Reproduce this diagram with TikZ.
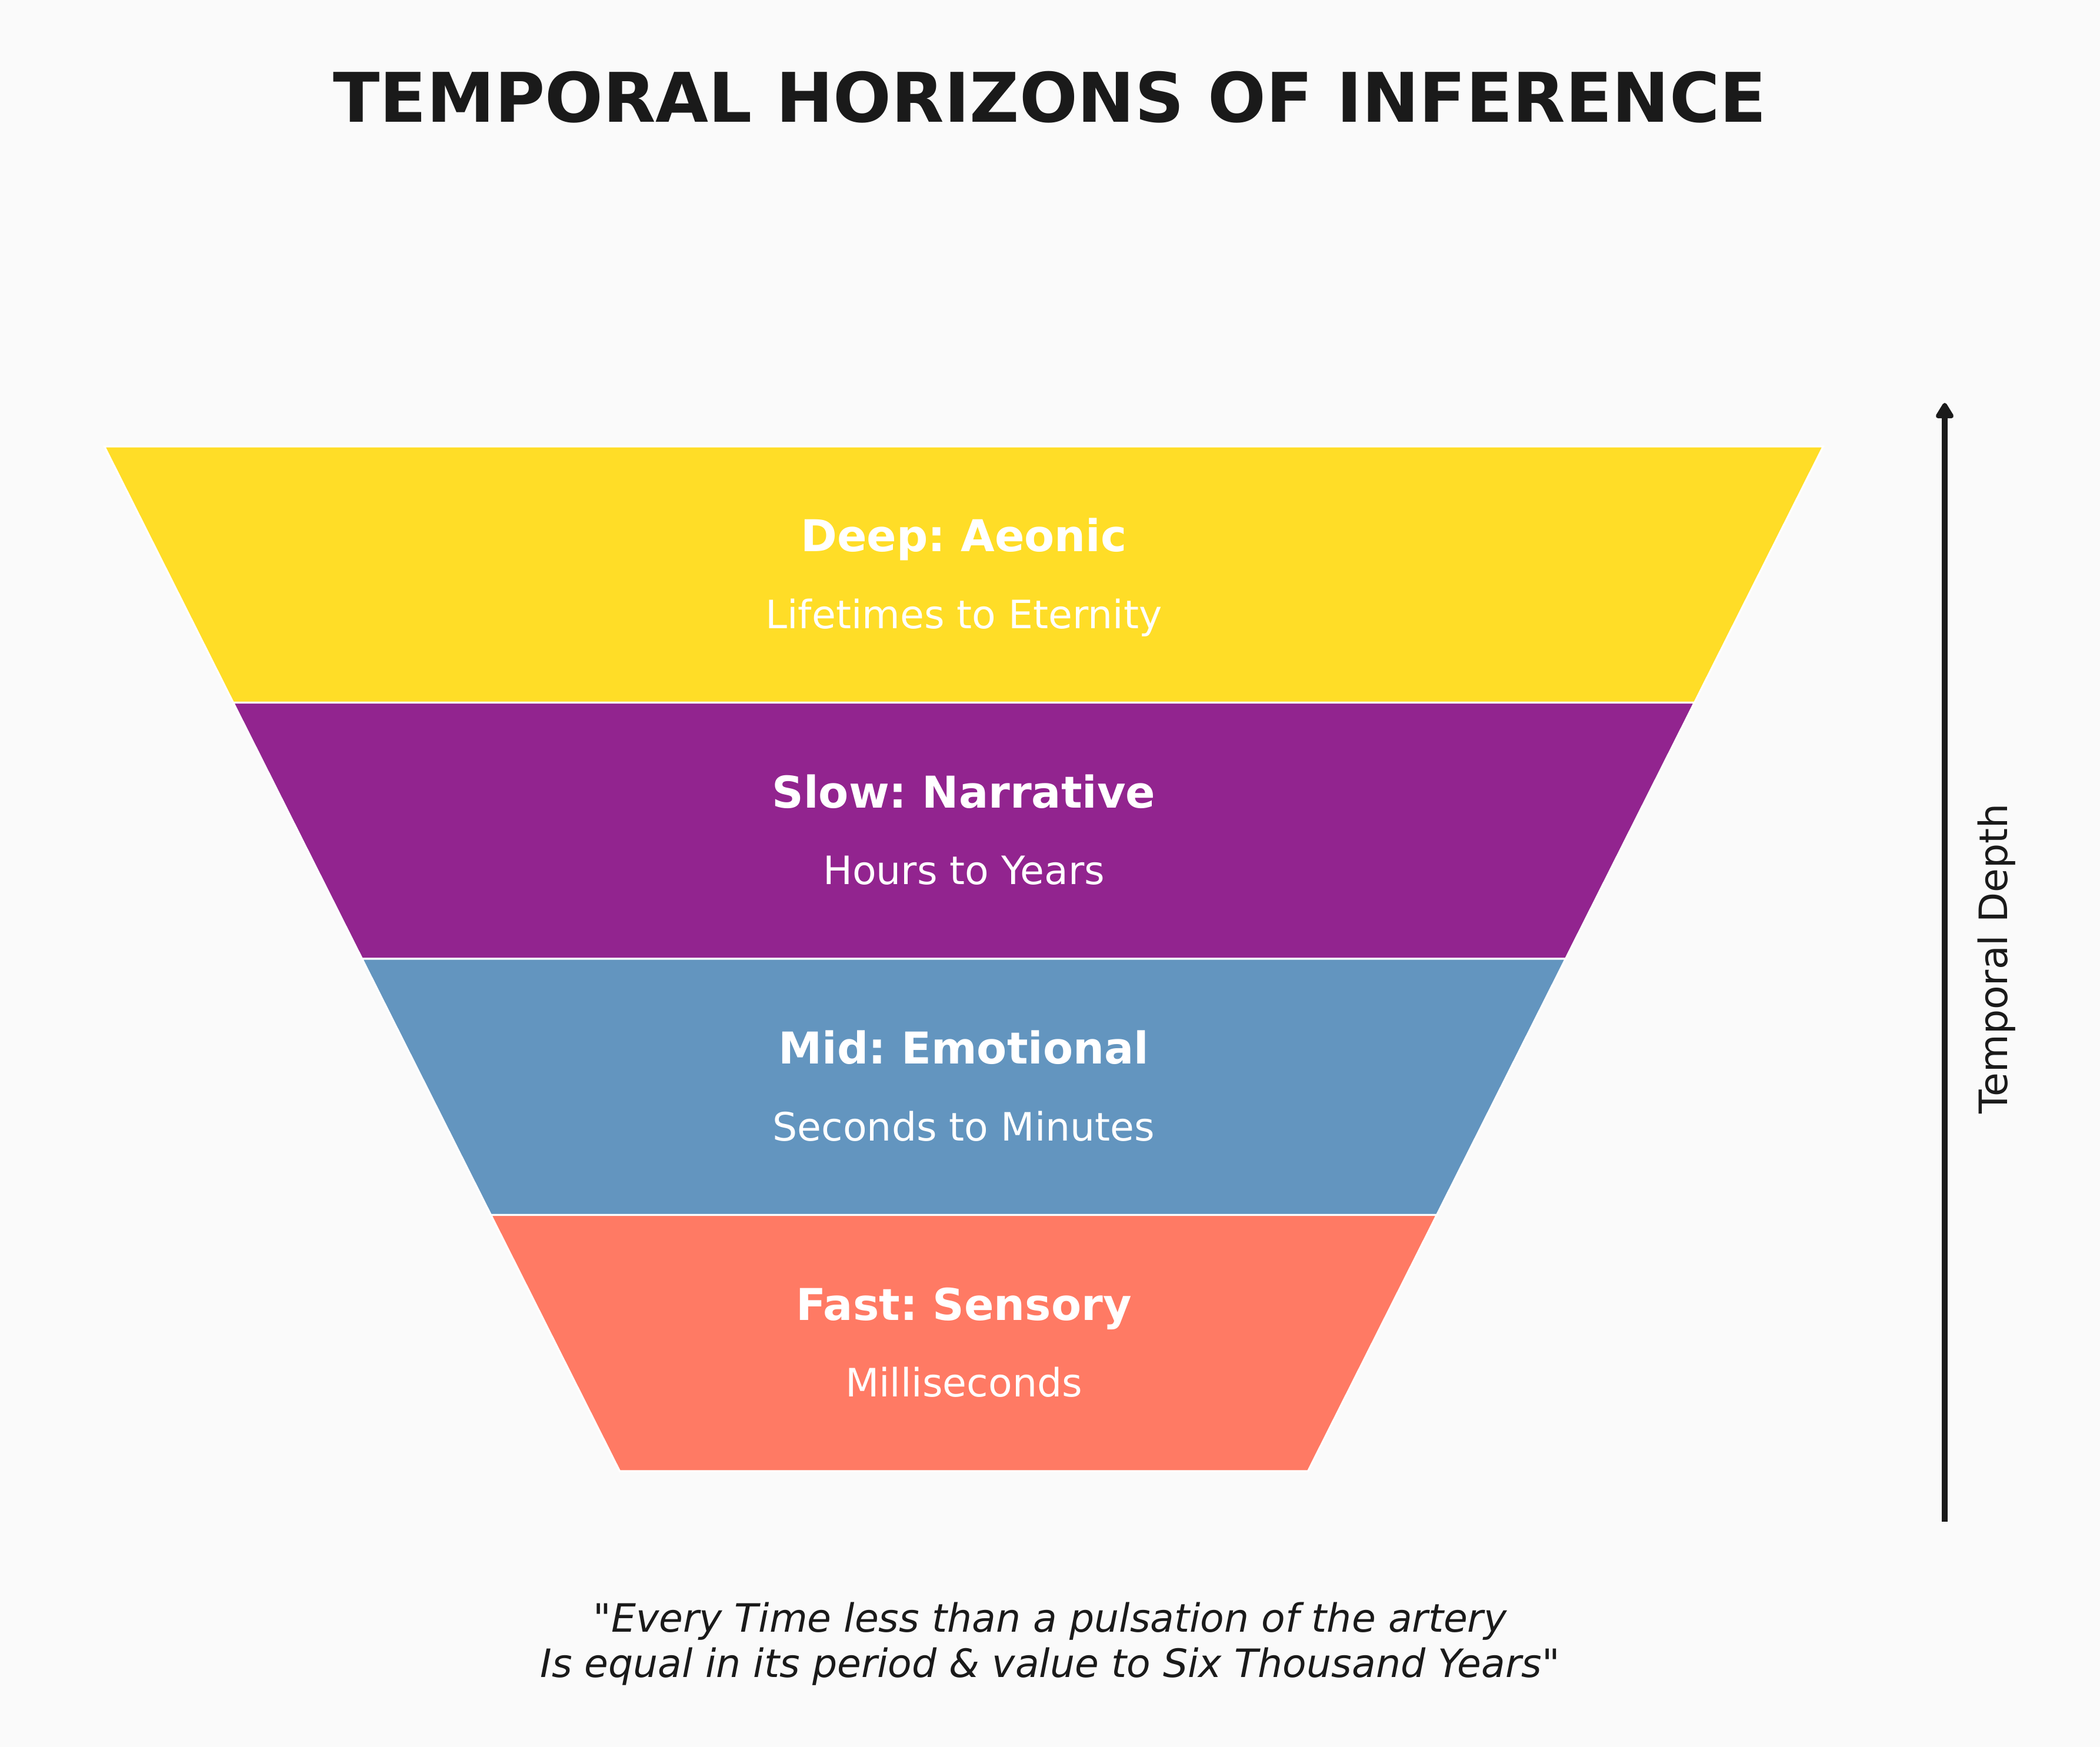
\documentclass[tikz,border=0pt]{standalone}
\usepackage{fontspec}
\setmainfont{DejaVu Sans}
\usetikzlibrary{arrows.meta}
\frenchspacing

\definecolor{paper}{HTML}{FAFAFA}
\definecolor{ink}{HTML}{1A1A1A}
\definecolor{deepcol}{HTML}{FFDD27}
\definecolor{slowcol}{HTML}{92248F}
\definecolor{midcol}{HTML}{6395BF}
\definecolor{fastcol}{HTML}{FF7A64}

\begin{document}
\begin{tikzpicture}[auto,
    band/.style ={draw=white, line width=0.9pt},
    level/.style ={anchor=base, inner sep=0pt, text=white, font=\fontsize{21.2}{25}\selectfont\bfseries},
    span/.style ={anchor=base, inner sep=0pt, text=white, font=\fontsize{18.9}{23}\selectfont},
    note/.style ={inner sep=0pt, text=ink, font=\fontsize{18.9}{22}\selectfont}]
   \fill[paper] (0,0) rectangle (35.7,29.7);
   \useasboundingbox (0,0) rectangle (35.7,29.7);
   \node[anchor=base, inner sep=0pt, text=ink, font=\fontsize{33.1}{40}\selectfont\bfseries] (title) at (17.85,27.62) {TEMPORAL HORIZONS OF INFERENCE};
   % funnel, widest band on top
   \filldraw[band, fill=deepcol] (1.775,22.11) -- (30.995,22.11) -- (28.805,17.755) -- (3.965,17.755) -- cycle;
   \filldraw[band, fill=slowcol] (3.965,17.755) -- (28.805,17.755) -- (26.615,13.40) -- (6.155,13.40) -- cycle;
   \filldraw[band, fill=midcol] (6.155,13.40) -- (26.615,13.40) -- (24.425,9.045) -- (8.345,9.045) -- cycle;
   \filldraw[band, fill=fastcol] (8.345,9.045) -- (24.425,9.045) -- (22.235,4.69) -- (10.535,4.69) -- cycle;
   \node[level] (deep) at (16.385,20.3225) {Deep: Aeonic};
   \node[span] (deeptime) at (16.385,19.0175) {Lifetimes to Eternity};
   \node[level] (slow) at (16.385,15.9675) {Slow: Narrative};
   \node[span] (slowtime) at (16.385,14.6625) {Hours to Years};
   \node[level] (mid) at (16.385,11.6125) {Mid: Emotional};
   \node[span] (midtime) at (16.385,10.3075) {Seconds to Minutes};
   \node[level] (fast) at (16.385,7.2575) {Fast: Sensory};
   \node[span] (fasttime) at (16.385,5.9525) {Milliseconds};
   % depth axis
   \coordinate (shallow) at (33.06,3.83);
   \coordinate (deepest) at (33.06,22.85);
   \draw[ink, line width=2.85pt, -{Triangle[length=0.3cm, width=0.34cm, round]}] (shallow) to (deepest);
   \node[note, rotate=90, anchor=base] (depth) at (34.12,13.40) {Temporal Depth};
   \node[note, anchor=base, align=center, font=\fontsize{18.9}{22}\selectfont\itshape] (verse) at (17.85,1.183) {\textquotedbl Every Time less than a pulsation of the artery\\Is equal in its period \& value to Six Thousand Years\textquotedbl};
\end{tikzpicture}
\end{document}
